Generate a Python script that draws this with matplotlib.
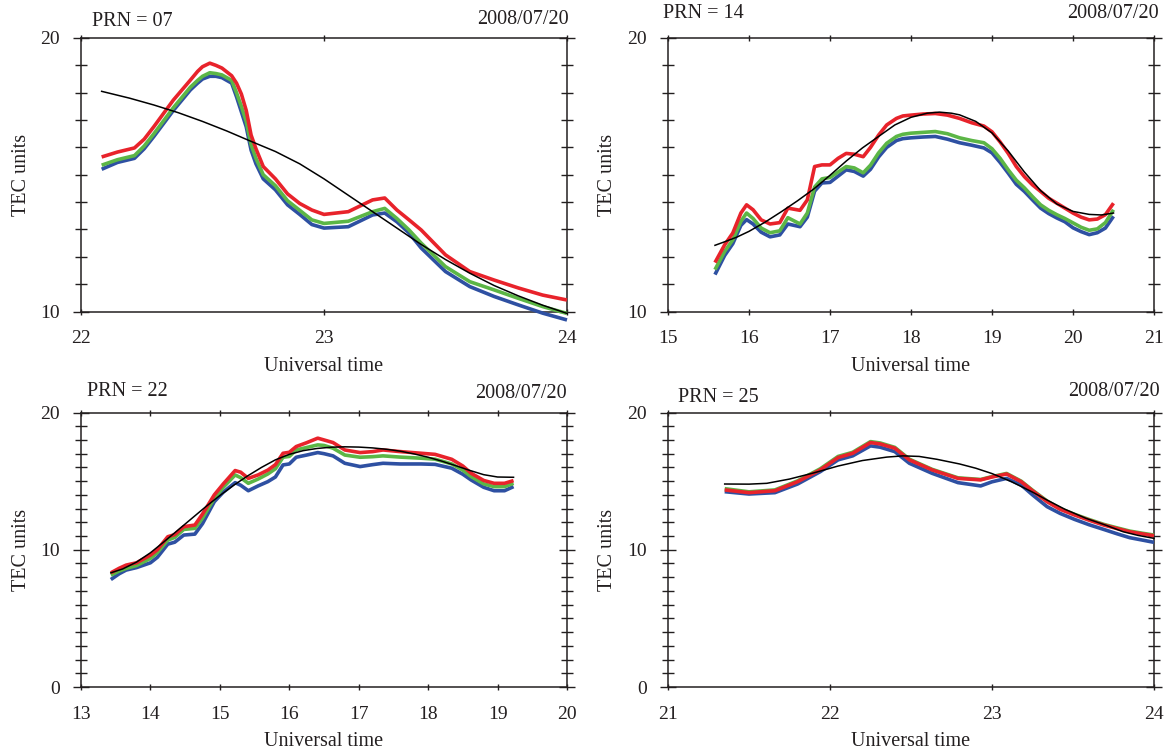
import matplotlib
matplotlib.use("Agg")
import matplotlib.pyplot as plt
from matplotlib.ticker import MultipleLocator

# ---------------- data ----------------
# PRN 07
t07 = [22.085, 22.15, 22.22, 22.26, 22.30, 22.38, 22.45, 22.48, 22.50, 22.53, 22.555, 22.58,
       22.62, 22.64, 22.66, 22.68, 22.70, 22.72, 22.75, 22.80, 22.85, 22.90, 22.95, 23.00,
       23.10, 23.20, 23.25, 23.30, 23.35, 23.40, 23.50, 23.60, 23.70, 23.80, 23.90, 24.00]
red07 = [15.65, 15.83, 15.98, 16.3, 16.76, 17.73, 18.46, 18.78, 18.95, 19.08, 19.0, 18.9,
         18.62, 18.35, 17.95, 17.35, 16.45, 15.95, 15.3, 14.85, 14.3, 13.95, 13.71, 13.55,
         13.65, 14.08, 14.15, 13.71, 13.35, 12.98, 12.07, 11.46, 11.15, 10.86, 10.6, 10.42]
green07 = [15.35, 15.55, 15.7, 16.05, 16.5, 17.45, 18.2, 18.45, 18.6, 18.73, 18.7, 18.65,
           18.45, 18.0, 17.5, 16.95, 16.1, 15.6, 15.0, 14.6, 14.05, 13.7, 13.35, 13.22,
           13.3, 13.65, 13.77, 13.4, 12.98, 12.5, 11.64, 11.09, 10.79, 10.48, 10.18, 9.93]
blue07 = [15.2, 15.45, 15.6, 15.95, 16.4, 17.35, 18.1, 18.35, 18.5, 18.6, 18.6, 18.55,
          18.35, 17.85, 17.3, 16.75, 15.9, 15.4, 14.85, 14.45, 13.9, 13.55, 13.18, 13.05,
          13.1, 13.53, 13.6, 13.28, 12.87, 12.32, 11.46, 10.91, 10.55, 10.24, 9.94, 9.69]
tf07 = [22.085, 22.2, 22.3, 22.4, 22.5, 22.6, 22.7, 22.8, 22.9, 23.0, 23.1, 23.2, 23.3,
        23.4, 23.5, 23.6, 23.7, 23.8, 23.9, 24.0]
fit07 = [18.05, 17.8, 17.55, 17.27, 16.95, 16.6, 16.22, 15.85, 15.4, 14.85, 14.25, 13.65,
         13.05, 12.45, 11.9, 11.4, 10.95, 10.57, 10.23, 9.93]

# PRN 14
t14 = [15.58, 15.7, 15.8, 15.9, 15.97, 16.05, 16.15, 16.26, 16.38, 16.48, 16.63, 16.72,
       16.81, 16.9, 17.0, 17.1, 17.2, 17.3, 17.41, 17.5, 17.6, 17.7, 17.82, 17.9, 18.0,
       18.15, 18.3, 18.45, 18.6, 18.75, 18.9, 19.0, 19.1, 19.2, 19.3, 19.4, 19.5, 19.6,
       19.7, 19.8, 19.9, 20.0, 20.1, 20.2, 20.3, 20.4, 20.5]
red14 = [11.79, 12.44, 12.87, 13.6, 13.9, 13.72, 13.35, 13.2, 13.25, 13.78, 13.7, 14.08,
         15.3, 15.36, 15.36, 15.6, 15.78, 15.75, 15.66, 16.0, 16.45, 16.82, 17.06, 17.15,
         17.18, 17.22, 17.24, 17.18, 17.06, 16.9, 16.78, 16.57, 16.2, 15.78, 15.3, 14.93,
         14.63, 14.39, 14.14, 13.96, 13.78, 13.6, 13.45, 13.35, 13.38, 13.54, 13.96]
green14 = [11.53, 12.2, 12.62, 13.3, 13.6, 13.4, 13.05, 12.88, 12.95, 13.43, 13.2, 13.6,
           14.55, 14.85, 14.9, 15.1, 15.3, 15.25, 15.07, 15.35, 15.8, 16.15, 16.4, 16.48,
           16.52, 16.55, 16.58, 16.5, 16.35, 16.25, 16.17, 15.95, 15.6, 15.18, 14.8, 14.52,
           14.2, 13.9, 13.7, 13.54, 13.4, 13.24, 13.08, 12.97, 13.02, 13.25, 13.72]
blue14 = [11.35, 12.05, 12.48, 13.15, 13.36, 13.2, 12.9, 12.73, 12.8, 13.2, 13.1, 13.45,
          14.4, 14.7, 14.72, 14.95, 15.18, 15.12, 14.95, 15.2, 15.65, 16.0, 16.25, 16.32,
          16.35, 16.38, 16.4, 16.3, 16.17, 16.08, 15.98, 15.8, 15.45, 15.06, 14.65, 14.39,
          14.08, 13.78, 13.58, 13.42, 13.28, 13.06, 12.92, 12.81, 12.88, 13.05, 13.48]
tf14 = [15.58, 15.7, 15.85, 16.0, 16.2, 16.4, 16.6, 16.8, 17.0, 17.2, 17.4, 17.6, 17.8,
        18.0, 18.2, 18.35, 18.5, 18.6, 18.8, 19.0, 19.2, 19.4, 19.6, 19.8, 20.0, 20.2,
        20.35, 20.5]
fit14 = [12.42, 12.55, 12.72, 12.93, 13.27, 13.65, 14.05, 14.48, 14.98, 15.5, 15.98, 16.4,
         16.82, 17.1, 17.25, 17.29, 17.25, 17.19, 16.95, 16.53, 15.87, 15.1, 14.42, 13.93,
         13.66, 13.55, 13.53, 13.6]

# PRN 22
t22 = [13.43, 13.55, 13.65, 13.8, 14.0, 14.1, 14.25, 14.35, 14.48, 14.64, 14.75, 14.92,
       15.05, 15.22, 15.3, 15.41, 15.55, 15.69, 15.8, 15.91, 16.0, 16.1, 16.25, 16.41,
       16.5, 16.63, 16.8, 17.02, 17.2, 17.35, 17.6, 17.9, 18.1, 18.34, 18.5, 18.62, 18.8,
       18.95, 19.1, 19.23]
red22 = [8.32, 8.65, 8.88, 9.05, 9.61, 10.0, 10.95, 11.1, 11.68, 11.8, 12.6, 14.0, 14.8,
         15.77, 15.65, 15.2, 15.45, 15.8, 16.2, 17.03, 17.1, 17.52, 17.8, 18.13, 18.0,
         17.81, 17.27, 17.08, 17.15, 17.27, 17.15, 17.03, 16.95, 16.59, 16.1, 15.57, 15.05,
         14.84, 14.84, 15.04]
green22 = [8.15, 8.45, 8.64, 8.85, 9.37, 9.8, 10.7, 10.9, 11.48, 11.56, 12.3, 13.75, 14.55,
           15.45, 15.25, 14.84, 15.15, 15.52, 15.9, 16.74, 16.8, 17.27, 17.45, 17.64, 17.6,
           17.4, 16.9, 16.74, 16.78, 16.84, 16.75, 16.67, 16.6, 16.25, 15.8, 15.33, 14.8,
           14.6, 14.6, 14.84]
blue22 = [7.83, 8.25, 8.52, 8.7, 9.05, 9.45, 10.41, 10.55, 11.07, 11.14, 11.9, 13.5, 14.2,
          14.89, 14.7, 14.3, 14.65, 14.96, 15.3, 16.18, 16.25, 16.74, 16.9, 17.08, 17.0,
          16.84, 16.3, 16.06, 16.2, 16.3, 16.25, 16.25, 16.22, 15.94, 15.5, 15.08, 14.55,
          14.3, 14.3, 14.6]
tf22 = [13.43, 13.6, 13.8, 14.0, 14.2, 14.4, 14.6, 14.8, 15.0, 15.2, 15.4, 15.6, 15.8,
        16.0, 16.2, 16.4, 16.6, 16.8, 17.0, 17.2, 17.4, 17.6, 17.8, 18.0, 18.2, 18.4, 18.6,
        18.8, 19.0, 19.23]
fit22 = [8.32, 8.6, 9.1, 9.78, 10.6, 11.45, 12.3, 13.15, 13.95, 14.7, 15.38, 16.0, 16.55,
         16.95, 17.22, 17.38, 17.47, 17.5, 17.48, 17.42, 17.32, 17.18, 16.98, 16.74, 16.45,
         16.12, 15.78, 15.47, 15.3, 15.28]

# PRN 25
t25 = [21.35, 21.5, 21.66, 21.8, 21.94, 22.05, 22.14, 22.25, 22.31, 22.4, 22.49, 22.63,
       22.79, 22.93, 23.0, 23.09, 23.18, 23.25, 23.34, 23.42, 23.51, 23.6, 23.69, 23.77,
       23.85, 23.93, 24.0]
red25 = [14.36, 14.16, 14.3, 14.96, 15.82, 16.72, 17.03, 17.81, 17.71, 17.4, 16.55, 15.82,
         15.2, 15.09, 15.3, 15.52, 14.96, 14.3, 13.5, 12.95, 12.53, 12.15, 11.8, 11.55,
         11.31, 11.15, 11.02]
green25 = [14.45, 14.22, 14.36, 15.02, 15.9, 16.8, 17.1, 17.88, 17.78, 17.46, 16.6, 15.86,
           15.24, 15.12, 15.33, 15.56, 15.0, 14.34, 13.55, 13.0, 12.58, 12.2, 11.85, 11.6,
           11.36, 11.2, 11.07]
blue25 = [14.23, 14.06, 14.16, 14.79, 15.69, 16.55, 16.84, 17.57, 17.47, 17.15, 16.3, 15.57,
          14.89, 14.65, 14.95, 15.2, 14.72, 14.0, 13.14, 12.65, 12.21, 11.82, 11.48, 11.17,
          10.88, 10.7, 10.54]
tf25 = [21.35, 21.5, 21.61, 21.75, 21.9, 22.05, 22.2, 22.35, 22.45, 22.55, 22.66, 22.8,
        22.9, 23.0, 23.12, 23.25, 23.34, 23.45, 23.58, 23.7, 23.81, 23.9, 24.0]
fit25 = [14.79, 14.78, 14.84, 15.15, 15.6, 16.1, 16.5, 16.75, 16.84, 16.8, 16.59, 16.25,
         15.94, 15.55, 14.96, 14.2, 13.62, 12.95, 12.29, 11.8, 11.31, 11.05, 10.83]

prns = ["07", "14", "22", "25"]
date = "2008/07/20"
xlims = [(22, 24), (15, 21), (13, 20), (21, 24)]
ylims = [(10, 20), (10, 20), (0, 20), (0, 20)]

# ---------------- figure ----------------
W, H = 1167, 754
plt.rcParams['font.family'] = ['Liberation Serif', 'DejaVu Serif']
TXT = '#231f20'
fig = plt.figure(figsize=(W / 100, H / 100), dpi=100)

boxes = [(81, 38, 567, 311.5), (668, 38, 1154, 311.5),
         (81, 412.5, 567, 687), (668, 412.5, 1154, 687)]
series = [(t07, red07, green07, blue07, tf07, fit07),
          (t14, red14, green14, blue14, tf14, fit14),
          (t22, red22, green22, blue22, tf22, fit22),
          (t25, red25, green25, blue25, tf25, fit25)]
prn_pos = [(92, 21), (663, 14), (87, 391), (678, 397)]
date_pos = [(569, 19), (1159, 14), (567, 393), (1160, 392)]

RED, GREEN, BLUE = '#e8232b', '#5cb646', '#2e50a2'

for i, (x0, y0, x1, y1) in enumerate(boxes):
    ax = fig.add_axes([x0 / W, 1 - y1 / H, (x1 - x0) / W, (y1 - y0) / H])
    t, r, g, b, tf, f = series[i]
    for vals, col in ((b, BLUE), (g, GREEN), (r, RED)):
        ax.plot(t, vals, color=col, lw=2.6, solid_joinstyle='round',
                solid_capstyle='butt', clip_on=False, zorder=3)
    ax.plot(tf, f, color='black', lw=1.1, clip_on=False, zorder=4)
    ax.set_xlim(*xlims[i])
    ax.set_ylim(*ylims[i])
    ax.xaxis.set_major_locator(MultipleLocator(1))
    ax.yaxis.set_major_locator(MultipleLocator(10))
    ax.yaxis.set_minor_locator(MultipleLocator(1))
    ax.tick_params(axis='both', which='both', direction='inout', top=True, right=True,
                   colors=TXT, labelcolor=TXT, labelsize=14, width=1.0)
    ax.tick_params(axis='x', which='major', length=5, pad=11)
    ax.tick_params(axis='y', which='major', length=12, pad=9)
    ax.tick_params(axis='y', which='minor', length=8)
    for s in ax.spines.values():
        s.set_linewidth(1.1)
        s.set_color(TXT)
    cx = (x0 + x1) / 2
    fig.text(cx / W, 1 - (y1 + 55) / H, "Universal time", ha='center', va='center',
             fontsize=14.5, color=TXT)
    fig.text((x0 - 60) / W, 1 - ((y0 + y1) / 2) / H, "TEC units", ha='center',
             va='center', rotation=90, fontsize=14.5, color=TXT)
    px, py = prn_pos[i]
    fig.text(px / W, 1 - py / H, "PRN = " + prns[i], ha='left', va='center',
             fontsize=14.5, color=TXT)
    dx, dy = date_pos[i]
    fig.text(dx / W, 1 - dy / H, date, ha='right', va='center', fontsize=14.5, color=TXT)

fig.savefig("out.png", dpi=100)
